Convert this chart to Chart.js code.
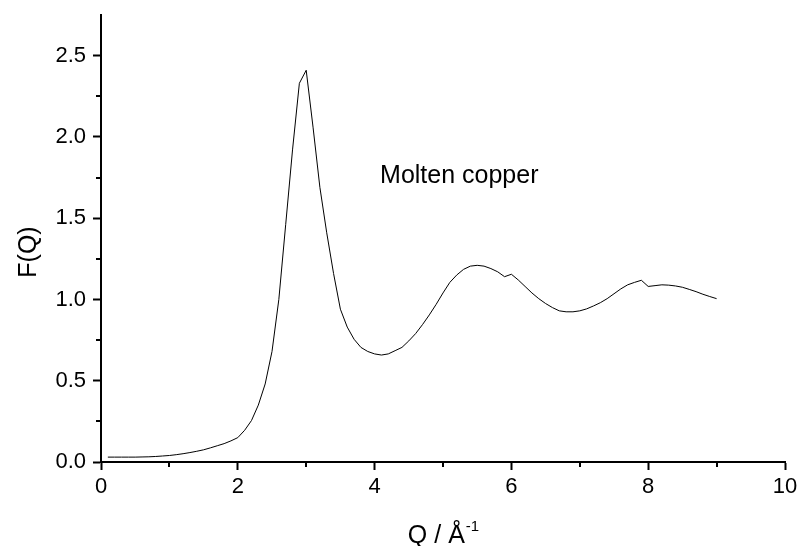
<!DOCTYPE html>
<html>
<head>
<meta charset="utf-8">
<script src="https://cdn.jsdelivr.net/npm/chart.js@4.4.1/dist/chart.umd.min.js"></script>
<style>
  html, body { margin: 0; padding: 0; background: #fff; }
  #wrap { width: 799px; height: 546px; position: relative; }
</style>
</head>
<body>
<div id="wrap"><canvas id="myChart"></canvas></div>
<script>
// F(Q) of molten copper
const qValues = [
  0.1, 0.2, 0.3, 0.4, 0.5, 0.6, 0.7, 0.8, 0.9, 1.0,
  1.1, 1.2, 1.3, 1.4, 1.5, 1.6, 1.7, 1.8, 1.9, 2.0,
  2.1, 2.2, 2.3, 2.4, 2.5, 2.6, 2.7, 2.8, 2.9, 3.0,
  3.1, 3.2, 3.3, 3.4, 3.5, 3.6, 3.7, 3.8, 3.9, 4.0,
  4.1, 4.2, 4.3, 4.4, 4.5, 4.6, 4.7, 4.8, 4.9, 5.0,
  5.1, 5.2, 5.3, 5.4, 5.5, 5.6, 5.7, 5.8, 5.9, 6.0,
  6.1, 6.2, 6.3, 6.4, 6.5, 6.6, 6.7, 6.8, 6.9, 7.0,
  7.1, 7.2, 7.3, 7.4, 7.5, 7.6, 7.7, 7.8, 7.9, 8.0,
  8.1, 8.2, 8.3, 8.4, 8.5, 8.6, 8.7, 8.8, 8.9, 9.0
];
const fValues = [
  0.030, 0.030, 0.030, 0.030, 0.030, 0.031, 0.032, 0.034, 0.037, 0.040,
  0.045, 0.051, 0.058, 0.066, 0.075, 0.087, 0.100, 0.113, 0.130, 0.150,
  0.195, 0.255, 0.350, 0.480, 0.680, 1.000, 1.460, 1.920, 2.330, 2.410,
  2.060, 1.690, 1.410, 1.160, 0.940, 0.830, 0.755, 0.705, 0.680, 0.665,
  0.658, 0.665, 0.685, 0.705, 0.745, 0.790, 0.845, 0.905, 0.970, 1.040,
  1.105, 1.150, 1.185, 1.205, 1.210, 1.205, 1.190, 1.170, 1.140, 1.155,
  1.120, 1.080, 1.040, 1.005, 0.975, 0.950, 0.930, 0.924, 0.924, 0.930,
  0.942, 0.960, 0.980, 1.005, 1.035, 1.065, 1.090, 1.105, 1.118, 1.080,
  1.085, 1.090, 1.088, 1.083, 1.075, 1.062, 1.048, 1.032, 1.018, 1.005
];

const xTicks = [0, 2, 4, 6, 8, 10];
const xMinorTicks = [1, 3, 5, 7, 9];
const yTicks = [0, 0.5, 1.0, 1.5, 2.0, 2.5];
const yMinorTicks = [0.25, 0.75, 1.25, 1.75, 2.25];

const labelText = 'Molten copper';
const labelPos = [4.08, 1.715];

const FONT = '"Liberation Sans", Arial, sans-serif';

// minor ticks, axis titles and the annotation
const extras = {
  id: 'extras',
  afterDraw(chart) {
    const ctx = chart.ctx;
    const xs = chart.scales.x, ys = chart.scales.y;
    const area = chart.chartArea;
    ctx.save();
    ctx.strokeStyle = '#000';
    ctx.lineWidth = 2;
    ctx.beginPath();
    xMinorTicks.forEach(v => {
      const px = Math.round(xs.getPixelForValue(v));
      ctx.moveTo(px, area.bottom);
      ctx.lineTo(px, area.bottom + 5);
    });
    yMinorTicks.forEach(v => {
      const py = Math.round(ys.getPixelForValue(v));
      ctx.moveTo(area.left, py);
      ctx.lineTo(area.left - 5, py);
    });
    ctx.stroke();

    ctx.fillStyle = '#000';
    ctx.textBaseline = 'alphabetic';

    // annotation
    ctx.font = '25px ' + FONT;
    ctx.textAlign = 'left';
    ctx.fillText(labelText, xs.getPixelForValue(labelPos[0]), ys.getPixelForValue(labelPos[1]));

    // x title with superscript
    const main = 'Q / \u00C5';
    const w = ctx.measureText(main).width;
    ctx.font = '15px ' + FONT;
    const ws = ctx.measureText('-1').width;
    const x0 = (area.left + area.right) / 2 - (w + ws) / 2;
    ctx.font = '25px ' + FONT;
    ctx.fillText(main, x0, 543);
    ctx.font = '15px ' + FONT;
    ctx.fillText('-1', x0 + w + 1, 531);

    // y title
    ctx.font = '25px ' + FONT;
    ctx.translate(36, 252);
    ctx.rotate(-Math.PI / 2);
    ctx.textAlign = 'center';
    ctx.fillText('F(Q)', 0, 0);
    ctx.restore();
  }
};

const ctx = document.getElementById('myChart').getContext('2d');
new Chart(ctx, {
  type: 'line',
  data: {
    datasets: [{
      data: qValues.map((q, i) => ({ x: q, y: fValues[i] })),
      borderColor: '#000',
      borderWidth: 1,
      pointRadius: 0,
      tension: 0,
      fill: false
    }]
  },
  options: {
    responsive: true,
    maintainAspectRatio: false,
    animation: false,
    layout: { padding: { top: 15, right: 14, left: 0, bottom: 0 } },
    plugins: { legend: { display: false }, tooltip: { enabled: false } },
    scales: {
      x: {
        type: 'linear',
        min: 0,
        max: 10,
        afterBuildTicks: s => { s.ticks = xTicks.map(v => ({ value: v })); },
        afterFit: s => { s.height = 84; s.paddingLeft = 0; s.paddingRight = 0; },
        grid: { drawOnChartArea: false, drawTicks: true, tickLength: 8, tickWidth: 2, tickColor: '#000' },
        border: { display: true, color: '#000', width: 2 },
        ticks: { color: '#000', padding: 4, font: { family: FONT, size: 22 }, maxRotation: 0,
                 callback: v => String(v) }
      },
      y: {
        type: 'linear',
        min: 0,
        max: 2.75,
        afterBuildTicks: s => { s.ticks = yTicks.map(v => ({ value: v })); },
        afterFit: s => { s.width = 101; s.paddingTop = 0; s.paddingBottom = 0; },
        grid: { drawOnChartArea: false, drawTicks: true, tickLength: 8, tickWidth: 2, tickColor: '#000' },
        border: { display: true, color: '#000', width: 2 },
        ticks: { color: '#000', padding: 7, font: { family: FONT, size: 22 },
                 callback: v => Number(v).toFixed(1) }
      }
    }
  },
  plugins: [extras]
});
</script>
</body>
</html>
